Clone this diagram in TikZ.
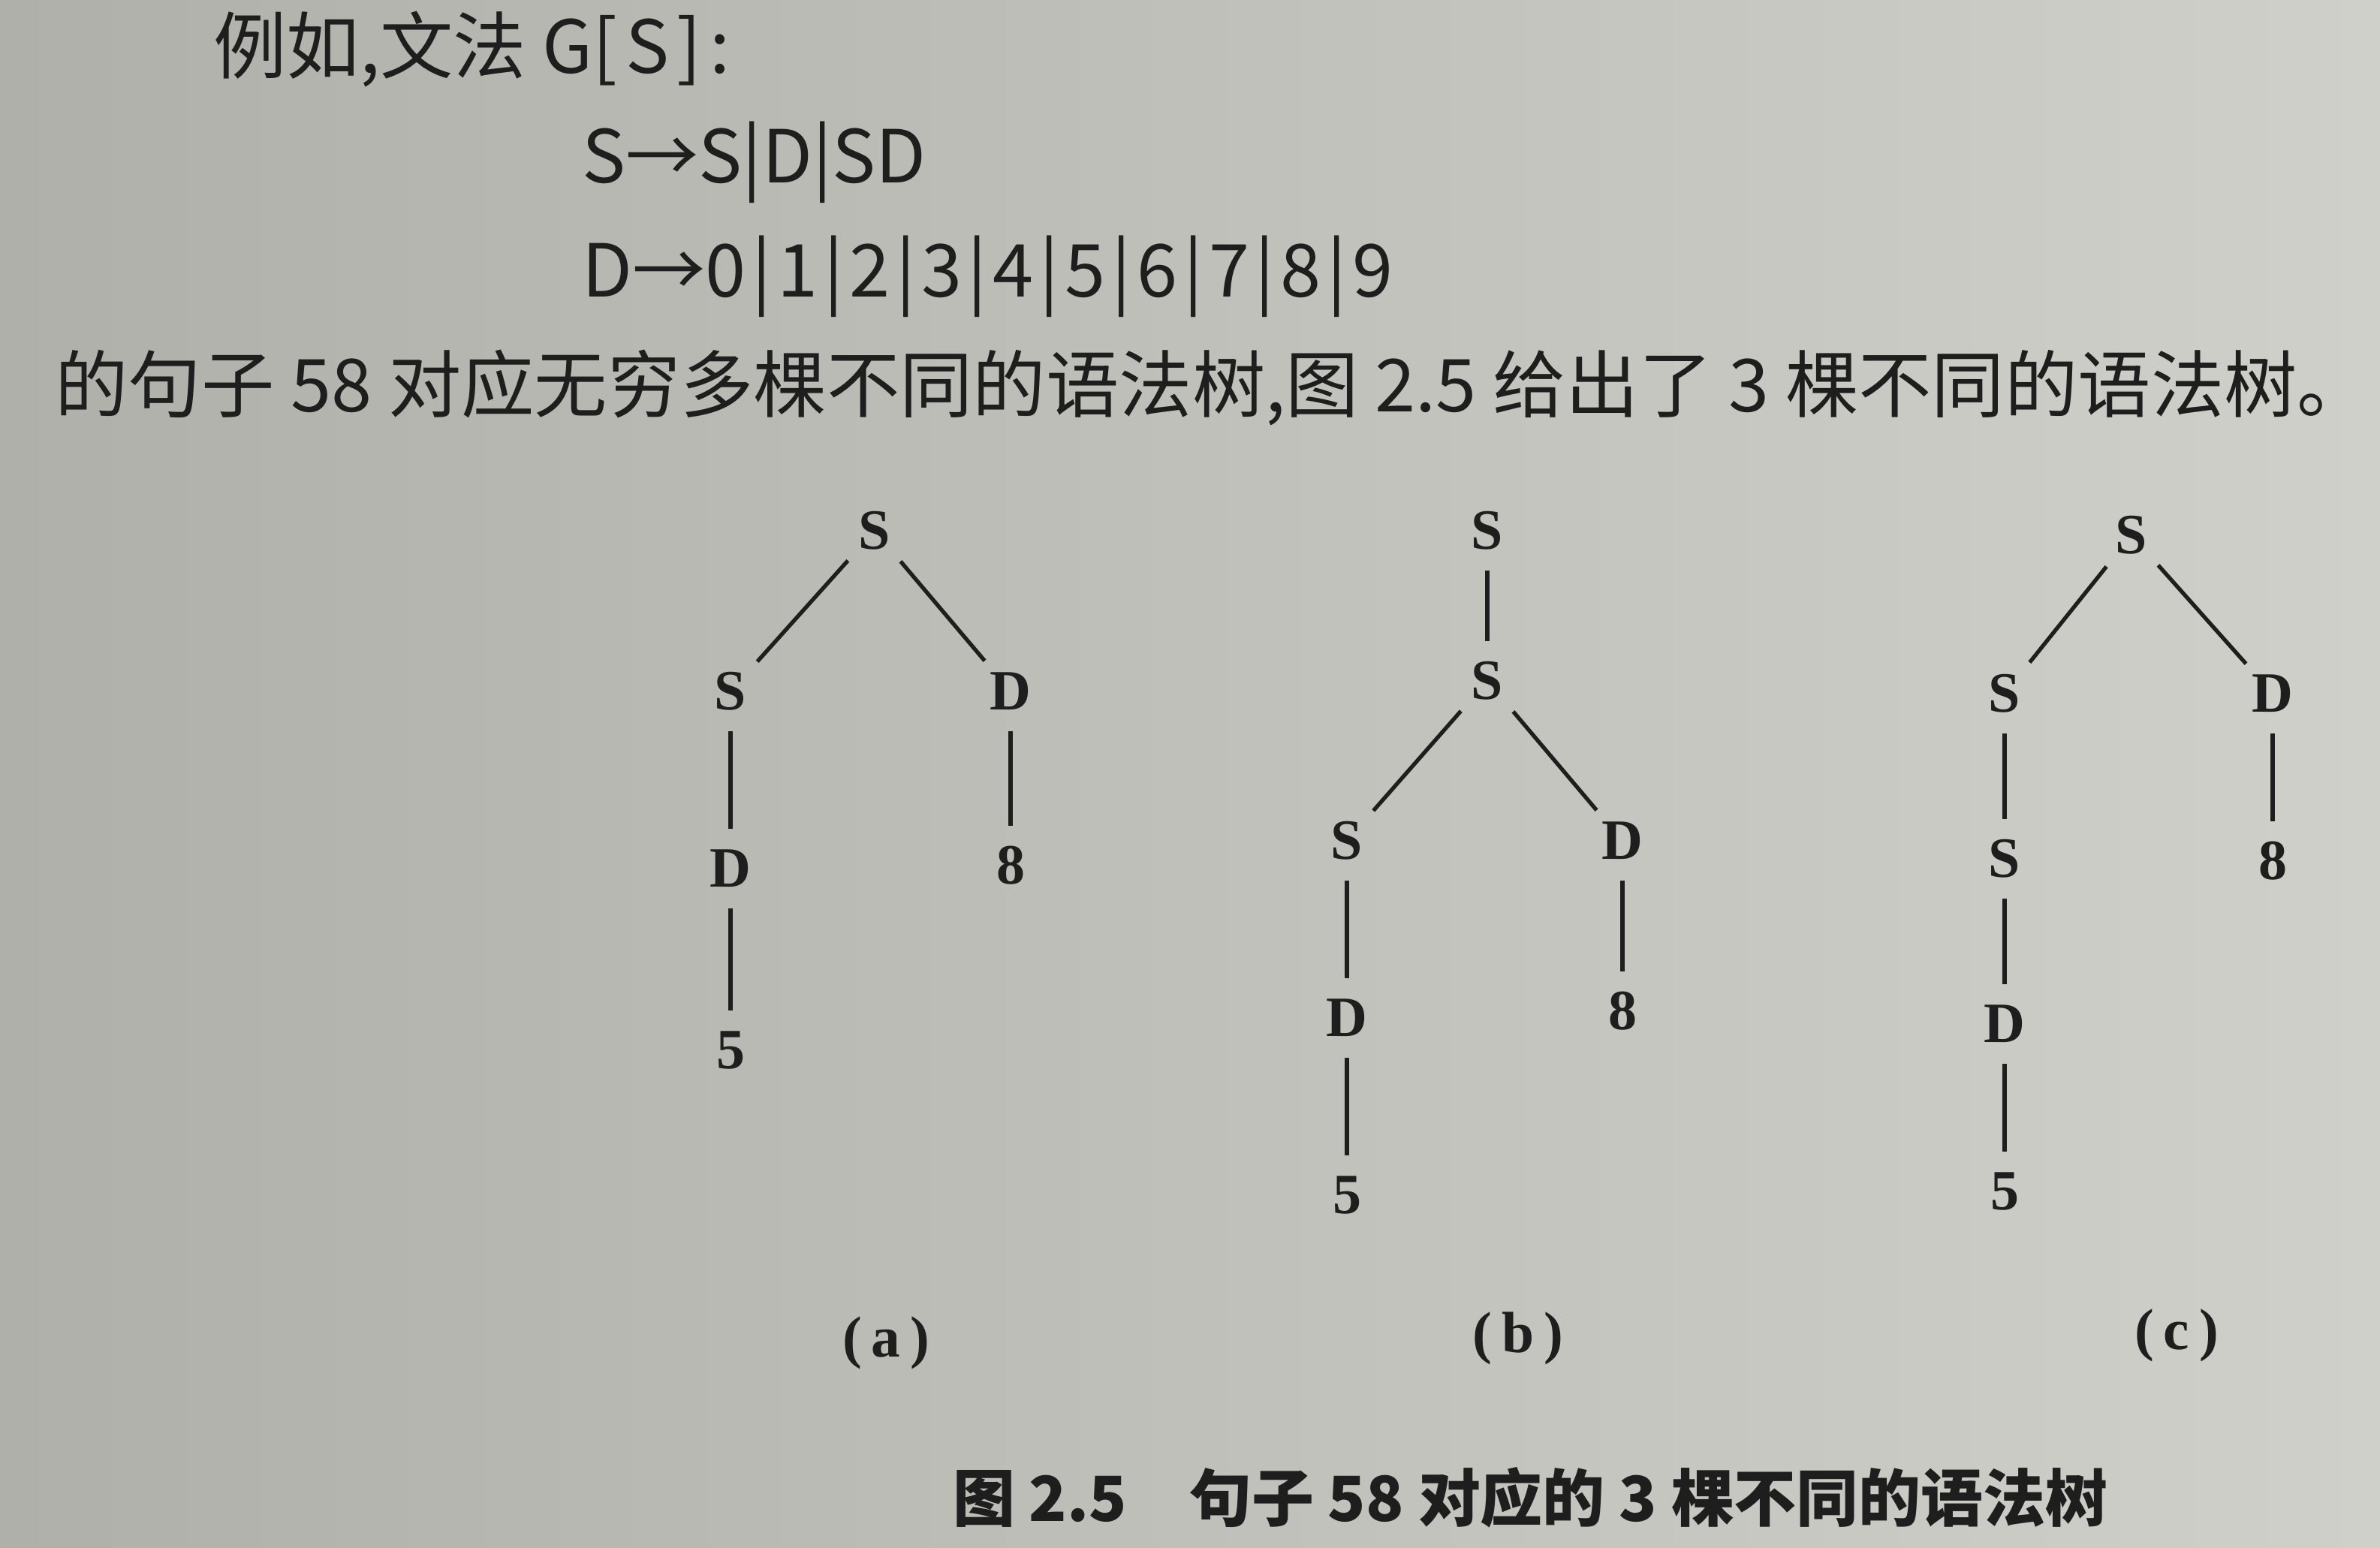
\documentclass[tikz,border=0pt]{standalone}
\usepackage{fontspec}
\setmainfont{Liberation Serif}
\newfontfamily\cjk{Noto Sans CJK SC}
\usetikzlibrary{positioning}
\definecolor{ink}{RGB}{30,30,30}
\definecolor{paperL}{RGB}{176,176,170}
\definecolor{paperR}{RGB}{208,208,202}
\newcommand\alt{\kern1.1pt|\kern1.1pt}
\tikzset{
    node distance = 1.15cm and 0.9cm, on grid,
    every edge/.style = {draw=ink, line width=0.75pt},
    sym/.style = {circle, inner sep=0pt, minimum size=0.52cm, text=ink,
        font=\fontsize{10.8}{10.8}\selectfont\bfseries},
    lbl/.style = {text=ink, font=\fontsize{11}{11}\selectfont\bfseries},
    body/.style = {anchor=west, inner sep=0pt, text=ink,
        font=\cjk\fontsize{13.85}{16}\selectfont},
    figcap/.style = {inner sep=0pt, text=ink,
        font=\cjk\bfseries\fontsize{11.8}{13}\selectfont}
}

\begin{document}
\begin{tikzpicture}

    % page
    \useasboundingbox (0,0) rectangle (15.85,-10.31);
    \shade[left color=paperL, right color=paperR] (0,0) rectangle (15.85,-10.31);

    % text above the figure
    \node[body] (gram) at (1.415,-0.33) {例如,文法 G[\kern1.5pt S\kern1.5pt]\kern1.5pt:};
    \node[body] (ruleS) at (3.87,-1.08) {S→S|D|SD};
    \node[body] (ruleD) at (3.87,-1.84) {D→0\alt 1\alt 2\alt 3\alt 4\alt 5\alt 6\alt 7\alt 8\alt 9};
    \node[body] (intro) at (0.36,-2.58) {的句子 58 对应无穷多棵不同的语法树,图 2.5 给出了 3 棵不同的语法树。};

    % tree (a)
    \node[sym] (aS0) at (5.825,-3.535) {S};
    \node[sym] (aS1) [below left = 1.07cm and 0.96cm of aS0] {S};
    \node[sym] (aD1) [below right = 1.07cm and 0.905cm of aS0] {D};
    \node[sym] (aD2) [below = 1.18cm of aS1] {D};
    \node[sym] (a5) [below = 1.21cm of aD2] {5};
    \node[sym] (a8) [below = 1.16cm of aD1] {8};

    \path (aS0) edge (aS1);
    \path (aS0) edge (aD1);
    \path (aS1) edge (aD2);
    \path (aD2) edge (a5);
    \path (aD1) edge (a8);

    % tree (b)
    \node[sym] (bS0) at (9.905,-3.535) {S};
    \node[sym] (bS1) [below = 1.0cm of bS0] {S};
    \node[sym] (bS2) [below left = 1.065cm and 0.935cm of bS1] {S};
    \node[sym] (bD1) [below right = 1.065cm and 0.9cm of bS1] {D};
    \node[sym] (bD2) [below = 1.18cm of bS2] {D};
    \node[sym] (b5) [below = 1.18cm of bD2] {5};
    \node[sym] (b8) [below = 1.135cm of bD1] {8};

    \path (bS0) edge (bS1);
    \path (bS1) edge (bS2);
    \path (bS1) edge (bD1);
    \path (bS2) edge (bD2);
    \path (bD2) edge (b5);
    \path (bD1) edge (b8);

    % tree (c)
    \node[sym] (cS0) at (14.195,-3.565) {S};
    \node[sym] (cS1) [below left = 1.055cm and 0.845cm of cS0] {S};
    \node[sym] (cD1) [below right = 1.055cm and 0.94cm of cS0] {D};
    \node[sym] (cS2) [below = 1.1cm of cS1] {S};
    \node[sym] (cD2) [below = 1.1cm of cS2] {D};
    \node[sym] (c5) [below = 1.115cm of cD2] {5};
    \node[sym] (c8) [below = 1.115cm of cD1] {8};

    \path (cS0) edge (cS1);
    \path (cS0) edge (cD1);
    \path (cS1) edge (cS2);
    \path (cS2) edge (cD2);
    \path (cD2) edge (c5);
    \path (cD1) edge (c8);

    % sub-labels and caption
    \node[lbl] (la) at (5.9,-8.945) {(\,a\,)};
    \node[lbl] (lb) at (10.11,-8.915) {(\,b\,)};
    \node[lbl] (lc) at (14.495,-8.895) {(\,c\,)};
    \node[figcap] (fig) at (10.19,-9.975) {图 2.5\hspace{1em}句子 58 对应的 3 棵不同的语法树};

\end{tikzpicture}
\end{document}
